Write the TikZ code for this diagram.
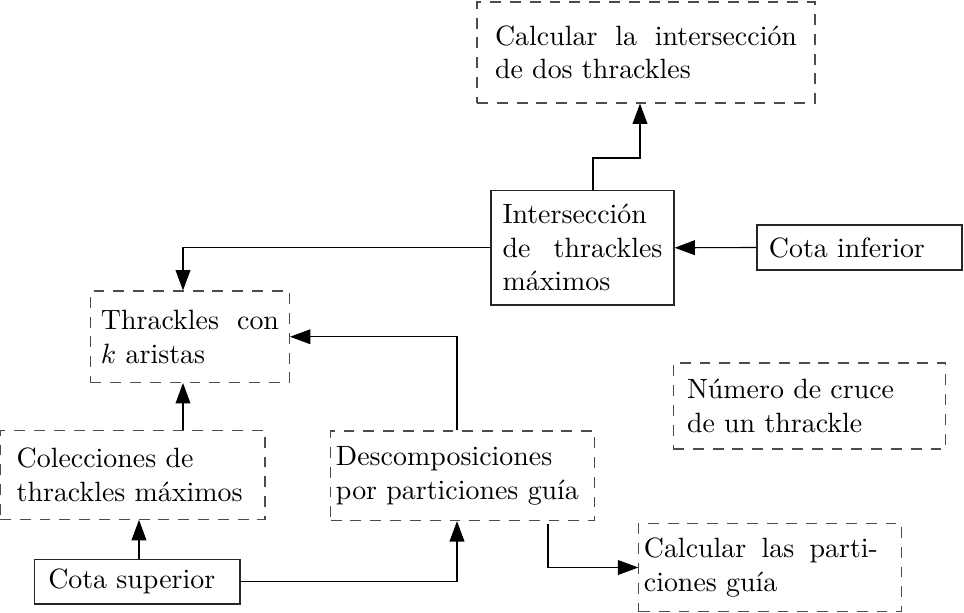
\documentclass[tikz,border=0pt]{standalone}
\usepackage{tikz}
\usepackage{amsmath}
\usetikzlibrary{arrows.meta}

\tikzset{
  cajafirme/.style={draw=black!85, line width=0.4pt, inner xsep=1pt, align=left},
  cajapunteada/.style={draw=black!70, line width=0.4pt, dash pattern=on 3.9pt off 3.2pt,
    inner xsep=1pt, align=left},
  enlace/.style={draw=black, line width=0.4pt, -{Triangle[length=7.3pt,width=5.3pt]}}
}

\begin{document}
\begin{tikzpicture}[x=0.3584pt, y=-0.3584pt]
  \useasboundingbox (0,0) rectangle (964,613);

  \node[cajapunteada, minimum width=121.1pt, minimum height=36.2pt, text width=108.2pt]
    (interseccion) at (646,52.5) {Calcular\hfill la\hfill intersección\\de dos thrackles};
  \node[cajafirme, minimum width=65.6pt, minimum height=41pt, text width=57.3pt]
    (maximos) at (582.5,247.75) {Intersección\\de\hfill thrackles\\máximos};
  \node[cajafirme, minimum width=73.5pt, minimum height=16.1pt, text width=64.9pt]
    (inferior) at (859.5,247.5) {Cota inferior};
  \node[cajapunteada, minimum width=71.3pt, minimum height=32.8pt, text width=63.8pt]
    (karistas) at (190,336.75) {Thrackles\hfill con\\$k$ aristas};
  \node[cajapunteada, minimum width=97.8pt, minimum height=30.8pt, text width=87.8pt]
    (cruce) at (809.5,406) {Número de cruce\\de un thrackle};
  \node[cajapunteada, minimum width=95pt, minimum height=32pt, text width=83pt]
    (colecciones) at (132.5,474.7) {Colecciones de\\thrackles máximos};
  \node[cajapunteada, minimum width=94.7pt, minimum height=32.1pt, text width=90.9pt]
    (descomp) at (462.8,475.8) {Descomposiciones\\por particiones guía};
  \node[cajafirme, minimum width=73.6pt, minimum height=16pt, text width=63.8pt]
    (superior) at (137.3,581.7) {Cota superior};
  \node[cajapunteada, minimum width=94.2pt, minimum height=31.7pt, text width=90.6pt]
    (particiones) at (770.3,567.5) {\makebox[83.9pt][l]{Calcular\hfill las\hfill parti-}\\ciones guía};

  \draw[enlace] (inferior.west) -- (maximos.east);
  \draw[enlace] (593,0 |- maximos.north) |- (640,158) -- (640,0 |- interseccion.south);
  \draw[enlace] (maximos.west) -| (183,0 |- karistas.north);
  \draw[enlace] (457,0 |- descomp.north) |- (karistas.east);
  \draw[enlace] (183,0 |- colecciones.north) -- (183,0 |- karistas.south);
  \draw[enlace] (139,0 |- superior.north) -- (139,0 |- colecciones.south);
  \draw[enlace] (superior.east) -| (457,0 |- descomp.south);
  \draw[enlace] ([yshift=-1pt]548,0 |- descomp.south) |- (particiones.west);

\end{tikzpicture}
\end{document}
